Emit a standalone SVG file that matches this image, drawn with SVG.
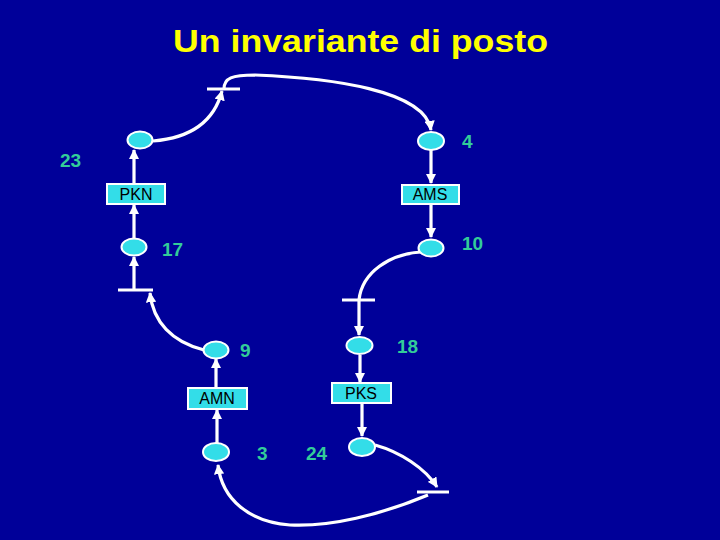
<svg xmlns="http://www.w3.org/2000/svg" width="720" height="540" viewBox="0 0 720 540">
<style>
.pl{fill:#33dde8;stroke:#ffffff;stroke-width:2}
.bx{fill:#33dde8;stroke:#ffffff;stroke-width:2}
.bt{font-family:"Liberation Sans",Arial,sans-serif;font-size:16px;fill:#000000;text-anchor:middle}
.num{font-family:"Liberation Sans",Arial,sans-serif;font-size:19px;font-weight:bold;fill:#33cc99}
.ar{fill:none;stroke:#ffffff;stroke-width:3.2;marker-end:url(#ah)}
.ln{fill:none;stroke:#ffffff;stroke-width:3.2}
.tr{stroke:#ffffff;stroke-width:3}
</style>
<defs>
<marker id="ah" viewBox="0 0 10 10" refX="9" refY="5" markerWidth="3.2" markerHeight="3.2" orient="auto" markerUnits="strokeWidth">
<path d="M0,0 L10,5 L0,10 z" fill="#ffffff"/>
</marker>
</defs>
<rect width="720" height="540" fill="#000099"/>
<text x="173" y="52" font-family="Liberation Sans,Arial,sans-serif" font-size="32" font-weight="bold" fill="#ffff00" textLength="375" lengthAdjust="spacingAndGlyphs">Un invariante di posto</text>
<g id="connectors">
<path class="ar" d="M153,141 C190,138 214,122 222,91"/>
<path class="ar" d="M224,89 C224,78 232,75 255,75 C330,78 425,90 431,130"/>
<path class="ar" d="M431,149 L431,183"/>
<path class="ar" d="M431,204 L431,237"/>
<path class="ln" d="M421,252 C390,254 362,272 359,300"/>
<path class="ar" d="M359,300 L359,335"/>
<path class="ar" d="M360,355 L360,382"/>
<path class="ar" d="M362,404 L362,436"/>
<path class="ar" d="M375,445 C400,452 425,468 437,487"/>
<path class="ar" d="M428,495 C380,515 330,527 290,525 C250,522 222,500 218,465"/>
<path class="ar" d="M217,443 L217,410"/>
<path class="ar" d="M216,388 L216,359"/>
<path class="ar" d="M204,350 C172,342 153,322 150,293"/>
<path class="ar" d="M134,290 L134,257"/>
<path class="ar" d="M134,238 L134,205"/>
<path class="ar" d="M134,184 L134,150"/>
</g>
<g id="t_top"><line class="tr" x1="207" y1="89" x2="240" y2="89"/></g>
<g id="t_left"><line class="tr" x1="118" y1="290" x2="153" y2="290"/></g>
<g id="t_right"><line class="tr" x1="342" y1="300" x2="375" y2="300"/></g>
<g id="t_bottom"><line class="tr" x1="417" y1="492" x2="449" y2="492"/></g>
<g id="p23"><ellipse class="pl" cx="140" cy="140" rx="12.5" ry="8.5"/><text class="num" x="60" y="167">23</text></g>
<g id="p4"><ellipse class="pl" cx="431" cy="141" rx="13" ry="9"/><text class="num" x="462" y="148">4</text></g>
<g id="PKN"><rect class="bx" x="107" y="184" width="58" height="20"/><text class="bt" x="136" y="200">PKN</text></g>
<g id="AMS"><rect class="bx" x="402" y="185" width="57" height="19"/><text class="bt" x="430" y="200">AMS</text></g>
<g id="p17"><ellipse class="pl" cx="134" cy="247" rx="12.5" ry="8.5"/><text class="num" x="162" y="256">17</text></g>
<g id="p10"><ellipse class="pl" cx="431" cy="248" rx="12.5" ry="8.5"/><text class="num" x="462" y="250">10</text></g>
<g id="p18"><ellipse class="pl" cx="359.5" cy="345.5" rx="13" ry="8.5"/><text class="num" x="397" y="353">18</text></g>
<g id="p9"><ellipse class="pl" cx="216" cy="350" rx="12.5" ry="8.5"/><text class="num" x="240" y="357">9</text></g>
<g id="AMN"><rect class="bx" x="188" y="388" width="59" height="21"/><text class="bt" x="217" y="404">AMN</text></g>
<g id="PKS"><rect class="bx" x="332" y="383" width="59" height="20"/><text class="bt" x="361" y="399">PKS</text></g>
<g id="p3"><ellipse class="pl" cx="216" cy="452" rx="13" ry="9"/><text class="num" x="257" y="460">3</text></g>
<g id="p24"><ellipse class="pl" cx="362" cy="447" rx="13" ry="9"/><text class="num" x="306" y="460">24</text></g>
</svg>
